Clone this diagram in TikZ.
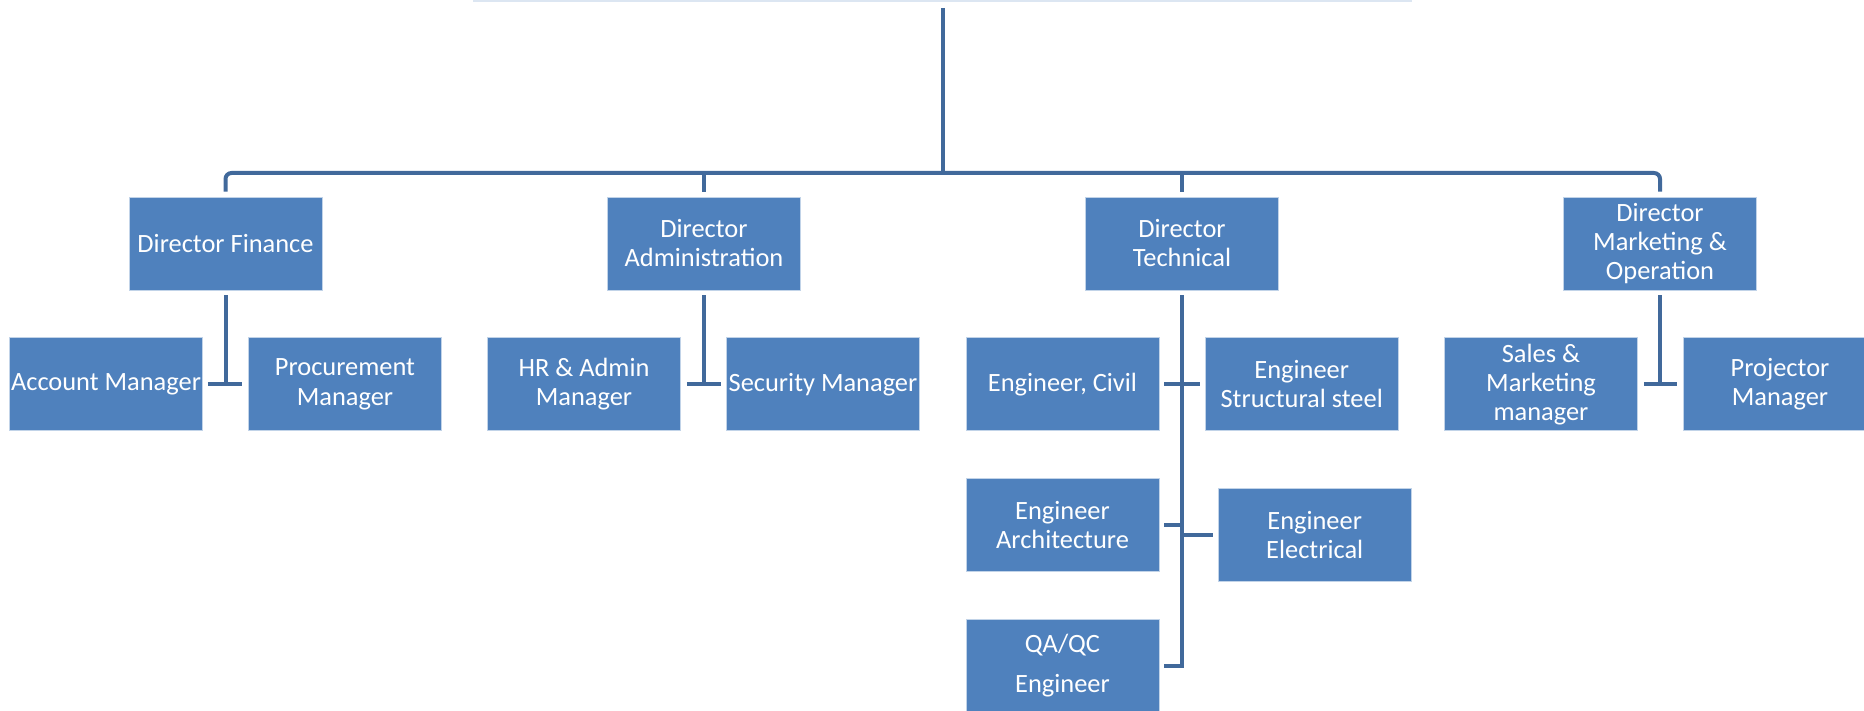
\documentclass[tikz,border=0pt]{standalone}
\usepackage{fontspec}
\setmainfont{Carlito}
\usetikzlibrary{positioning,calc}

\definecolor{boxblue}{HTML}{4F81BD}
\definecolor{linkblue}{HTML}{41699B}
\definecolor{topfaint}{HTML}{DCE6F2}

\begin{document}
\begin{tikzpicture}[
		x=0.5pt, y=-0.5pt,
		post/.style={draw=white!65!boxblue, fill=boxblue, line width=0.4pt, minimum width=96.5pt, minimum height=46.5pt, inner sep=0pt, align=center, text=white, font=\fontsize{13.2}{14.5}\selectfont},
		conn/.style={draw=linkblue, line width=2pt},
		node distance=23.5pt
		]
		\useasboundingbox (0,0) rectangle (1864,711);
		\draw[topfaint, line width=1pt] (473,1) -- (1412,1);

		% directors
		\node[post] at (225.5,243.5) (dfin) {Director Finance};
		\node[post] at (704,243.5) (dadm) {Director\\Administration};
		\node[post] at (1182,243.5) (dtech) {Director\\Technical};
		\node[post] at (1660,243.5) (dmkt) {Director\\Marketing \&\\Operation};

		% managers
		\node[post, below= of dfin, xshift=-59.75pt] (acct) {Account Manager};
		\node[post, below= of dfin, xshift=59.75pt] (proc) {Procurement\\Manager};
		\node[post, below= of dadm, xshift=-60pt] (hradm) {HR \& Admin\\Manager};
		\node[post, below= of dadm, xshift=59.5pt] (secur) {Security Manager};
		\node[post, below= of dtech, xshift=-59.75pt] (civil) {Engineer, Civil};
		\node[post, below= of dtech, xshift=59.85pt] (struct) {Engineer\\Structural steel};
		\node[post, below= of civil] (arch) {Engineer\\Architecture};
		\node[post, below=28.35pt of struct, xshift=6.5pt] (elec) {Engineer\\Electrical};
		\node[post, below= of arch] (qaqc) {QA/QC\\[5.5pt]Engineer};
		\node[post, below= of dmkt, xshift=-59.5pt] (sales) {Sales \&\\Marketing\\manager};
		\node[post, below= of dmkt, xshift=60pt] (proj) {Projector\\Manager};

		% top bus
		\coordinate (top) at (942.5,8);
		\coordinate (bus) at (942.5,173);
		\draw[conn] (top) -- (bus);
		\draw[conn, rounded corners=3pt] ($(dfin.north)+(0,-5)$) |- (bus) -| ($(dmkt.north)+(0,-5)$);
		\draw[conn] ($(dadm.north)+(0,-5)$) -- (dadm.north |- bus);
		\draw[conn] ($(dtech.north)+(0,-5)$) -- (dtech.north |- bus);

		% finance, administration, marketing
		\draw[conn] ($(dfin.south)+(0,5)$) -- (dfin.south |- acct.east);
		\draw[conn] ($(acct.east)+(5,0)$) -- ($(proc.west)+(-6,0)$);
		\draw[conn] ($(dadm.south)+(0,5)$) -- (dadm.south |- hradm.east);
		\draw[conn] ($(hradm.east)+(6,0)$) -- ($(secur.west)+(-5,0)$);
		\draw[conn] ($(dmkt.south)+(0,5)$) -- (dmkt.south |- sales.east);
		\draw[conn] ($(sales.east)+(6,0)$) -- ($(proj.west)+(-6,0)$);

		% technical
		\draw[conn] ($(dtech.south)+(0,5)$) |- ($(qaqc.east)+(5,0)$);
		\draw[conn] ($(civil.east)+(5,0)$) -- ($(struct.west)+(-5,0)$);
		\draw[conn] ($(arch.east)+(5,0)$) -- (arch.east -| dtech.south);
		\draw[conn] (elec.west -| dtech.south) -- ($(elec.west)+(-5,0)$);
	\end{tikzpicture}
\end{document}
